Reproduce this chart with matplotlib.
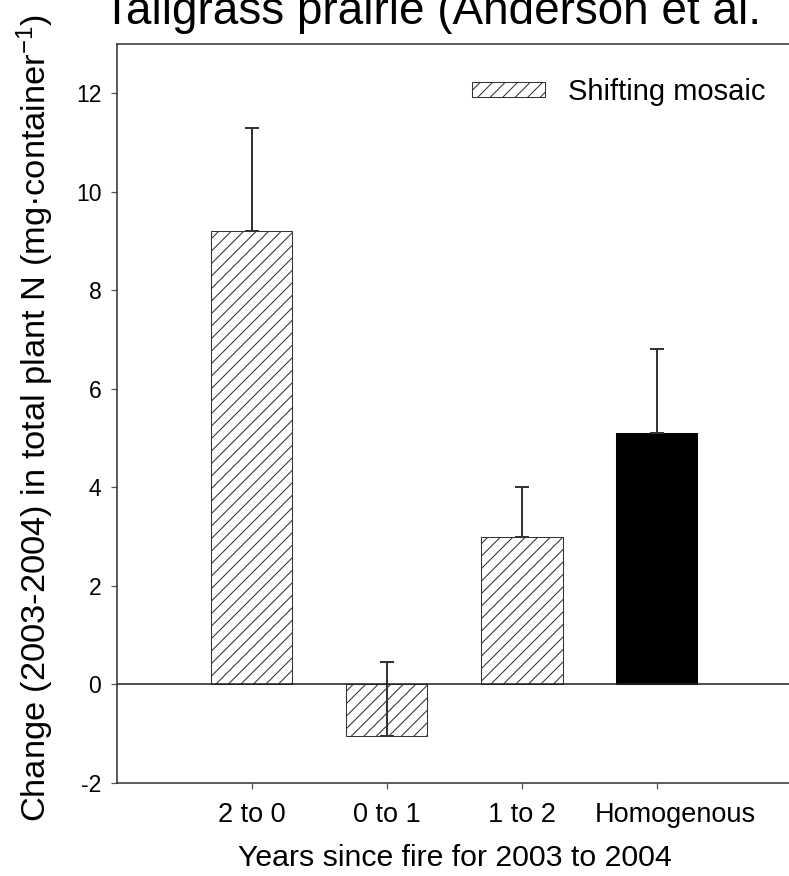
import numpy as np
import matplotlib
matplotlib.use("Agg")
from matplotlib import pyplot as plt
from matplotlib.patches import Patch
from matplotlib.ticker import FuncFormatter
from matplotlib.transforms import ScaledTranslation

plt.rcParams["font.family"] = ["Liberation Sans", "DejaVu Sans"]
plt.rcParams["mathtext.fontset"] = "custom"
plt.rcParams["mathtext.rm"] = "Liberation Sans"
plt.rcParams["mathtext.it"] = "Liberation Sans:italic"
plt.rcParams["hatch.linewidth"] = 1.0
plt.rcParams["hatch.color"] = "#222222"

categories = ["2 to 0", "0 to 1", "1 to 2", "Homogenous"]
change = [9.2, -1.05, 3.0, 5.1]
se = [2.1, 1.5, 1.0, 1.7]
shifting = [True, True, True, False]

DPI = 75
fig = plt.figure(figsize=(789 / DPI, 876 / DPI), dpi=DPI)
ax = fig.add_axes([117 / 789, 93 / 876, 675 / 789, 739 / 876])

x = np.arange(1, len(categories) + 1)
for xi, val, hatched in zip(x, change, shifting):
    if hatched:
        ax.bar(xi, val, width=0.6, color="white", edgecolor="#333333",
               hatch="//", linewidth=1.0, zorder=2)
    else:
        ax.bar(xi, val, width=0.6, color="black", edgecolor="black",
               linewidth=1.0, zorder=2)

# one-sided (upper) error bars
ax.errorbar(x, change, yerr=[np.zeros(len(se)), se], fmt="none",
            ecolor="#333333", elinewidth=1.9, capsize=6.5, capthick=1.9, zorder=3)

ax.axhline(0, color="#222222", linewidth=1.5, zorder=4)

ax.set_xlim(0, 5)
ax.set_ylim(-2, 13)
ax.set_yticks(np.arange(-2, 13, 2))
ax.yaxis.set_major_formatter(FuncFormatter(lambda v, pos: "%d" % v))
ax.set_xticks(x)
ax.set_xticklabels(categories, fontsize=26)
ax.tick_params(axis="y", labelsize=22, length=6, width=1.2, color="#555555", pad=9)
ax.tick_params(axis="x", length=6, width=1.2, color="#555555", pad=12)

# the long last label sits a little to the right of its tick
last = ax.get_xticklabels()[-1]
last.set_transform(last.get_transform() + ScaledTranslation(0.24, 0, fig.dpi_scale_trans))

for side in ("left", "bottom", "top"):
    ax.spines[side].set_linewidth(1.5)
    ax.spines[side].set_color("#333333")
ax.spines["right"].set_visible(False)

ax.set_xlabel("Years since fire for 2003 to 2004", fontsize=29, labelpad=16)
fig.text(35 / 789, 1 - 418 / 876,
         "Change (2003-2004) in total plant N (mg\u00b7container$^{\\mathrm{-1}}$)",
         rotation=90, fontsize=33, ha="center", va="center")

fig.text(103 / 789, 1 - 24 / 876, "Tallgrass prairie (Anderson et al.",
         fontsize=44, ha="left", va="baseline")

handle = Patch(facecolor="white", edgecolor="#333333", hatch="//", linewidth=1.0)
fig.legend([handle], ["Shifting mosaic"], loc="center left",
           bbox_to_anchor=(457 / 789, 1 - 92 / 876), frameon=False,
           fontsize=28, borderpad=0, handlelength=2.5, handleheight=0.45,
           handletextpad=0.8)

fig.savefig("out.png", dpi=DPI)
